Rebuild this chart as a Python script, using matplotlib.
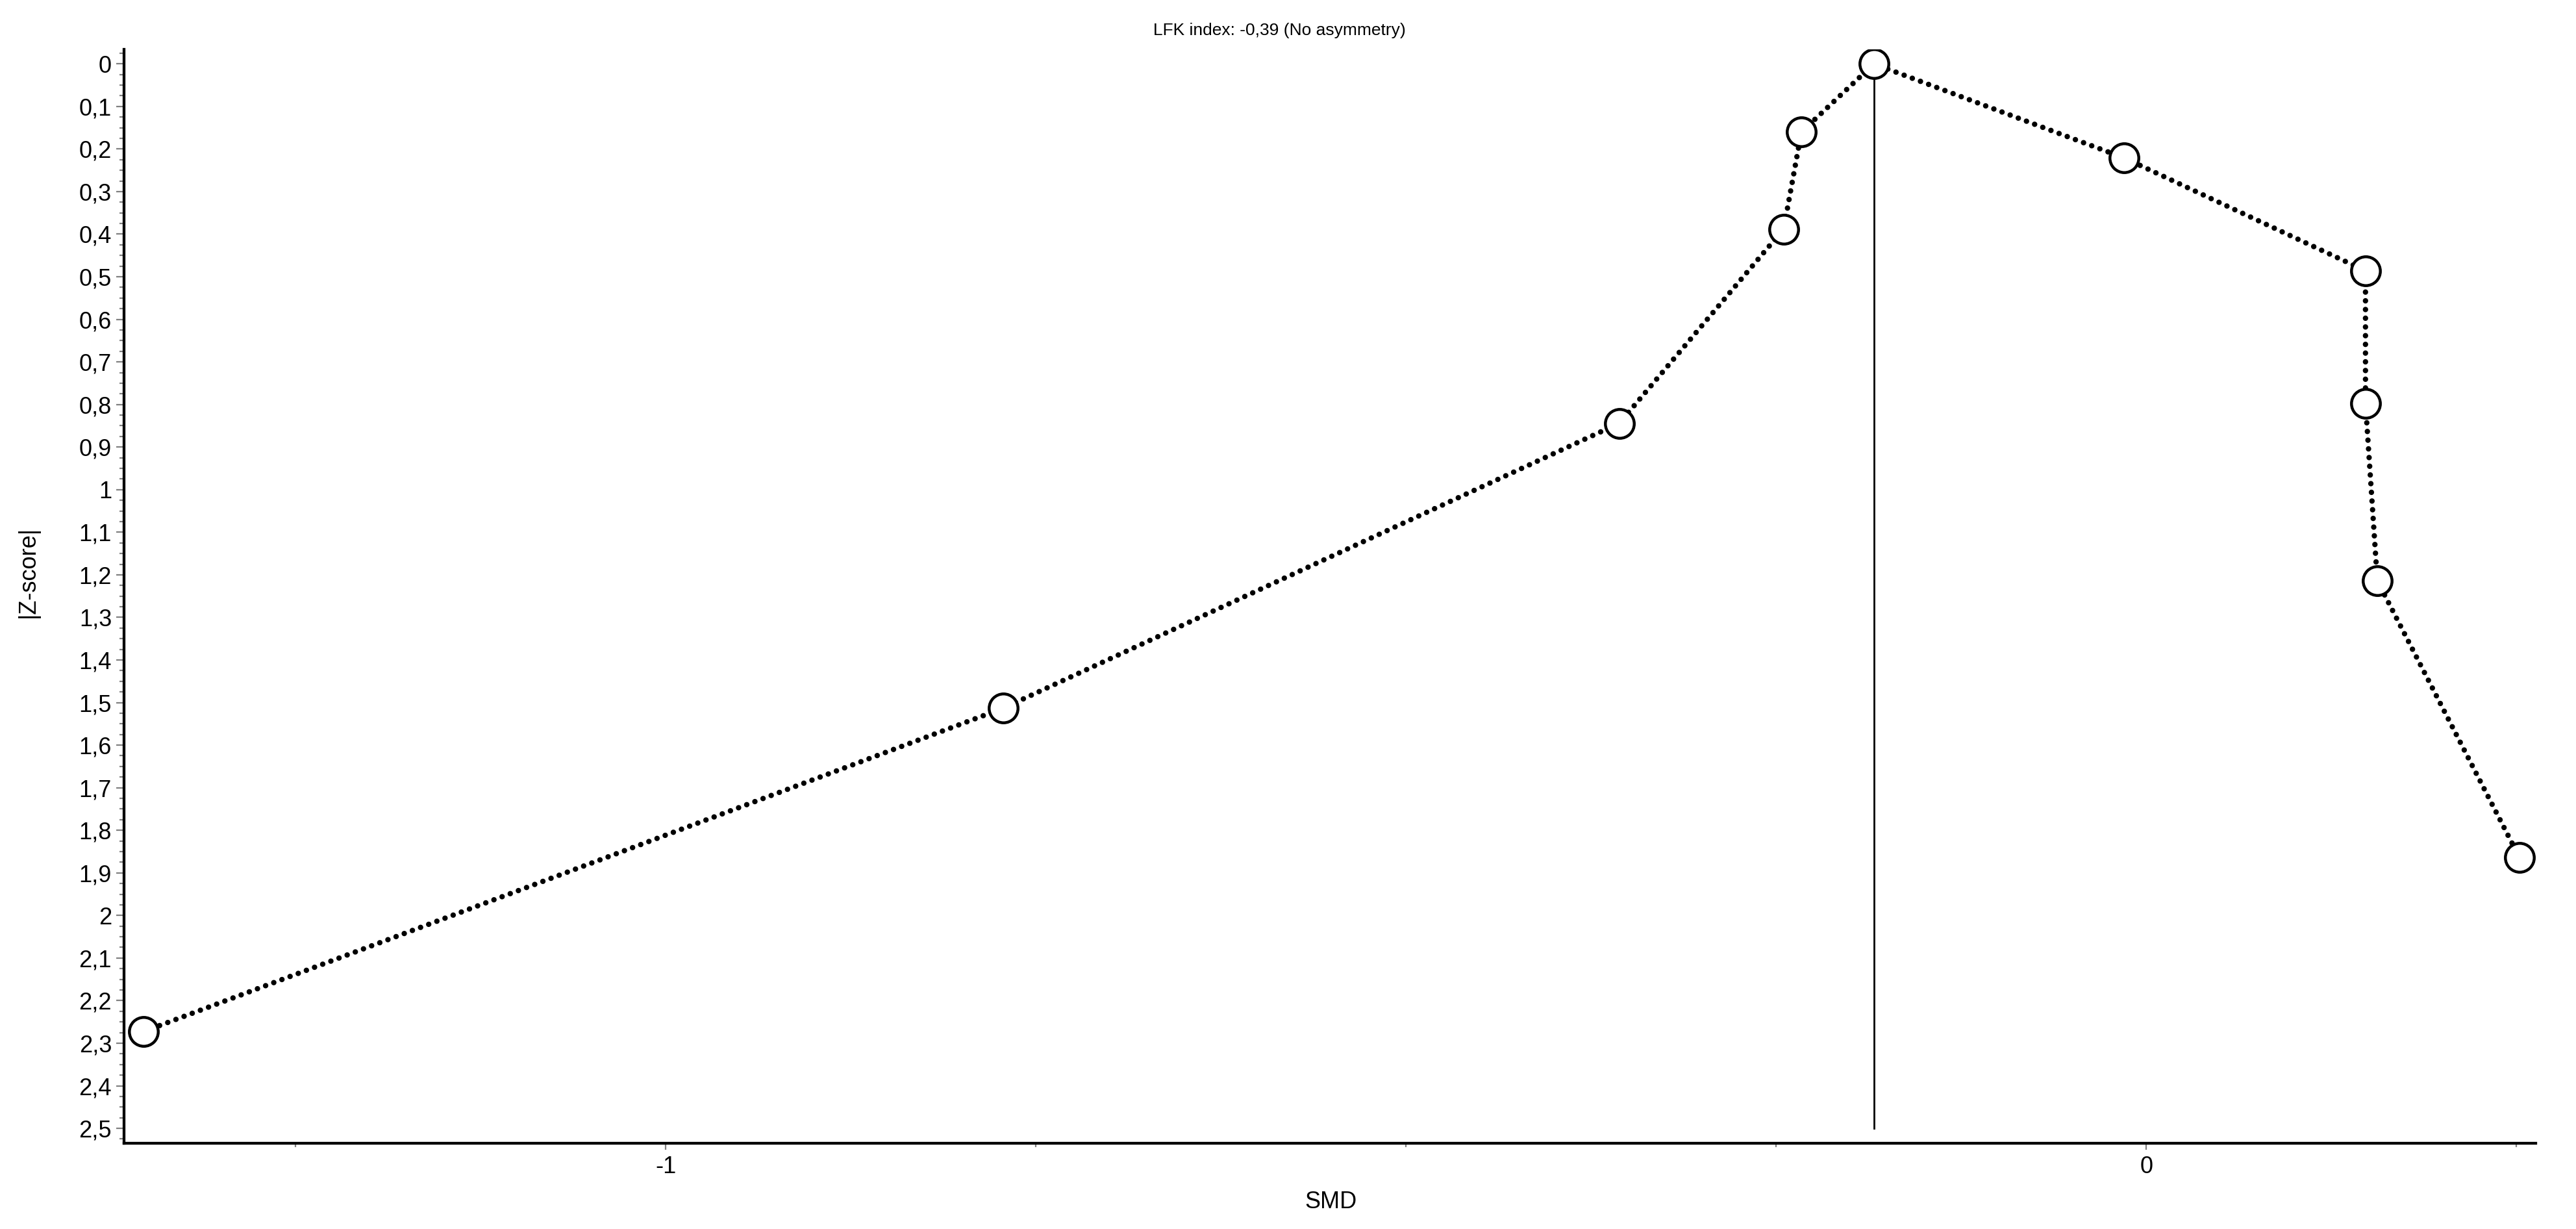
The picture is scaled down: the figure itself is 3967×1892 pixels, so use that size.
import matplotlib
matplotlib.use('Agg')
import matplotlib.pyplot as plt
from matplotlib.ticker import MultipleLocator, FixedLocator, FuncFormatter

plt.rcParams['font.family'] = ['Liberation Sans', 'DejaVu Sans']

# study effects (SMD) and |Z-score|
smd = [-1.353, -0.772, -0.356, -0.245, -0.233, -0.184, -0.015, 0.148, 0.148, 0.156, 0.252]
zscore = [2.273, 1.513, 0.844, 0.388, 0.160, 0.0, 0.221, 0.486, 0.797, 1.214, 1.864]

# vertical reference line at the peak of the plot
peak_smd = -0.184
peak_z = [0.0, 2.5]

title_txt = 'LFK index: -0,39 (No asymmetry)'
x_major = [-1, 0]

#create figure with the right pixel size
fig, ax = plt.subplots(figsize=(39.67, 18.92), dpi=100)
fig.subplots_adjust(left=191/3967, right=3905/3967, bottom=1-1760/1892, top=1-76/1892)

#reference line
ax.plot([peak_smd, peak_smd], peak_z, color='black', lw=2.0, zorder=1)

#dotted connecting line
ax.plot(smd, zscore, color='black', lw=6.0, linestyle=(0, (0.01, 1.6)),
        dash_capstyle='round', zorder=2)

#open circles
ax.plot(smd, zscore, linestyle='none', marker='o', markersize=32,
        markerfacecolor='white', markeredgecolor='black', markeredgewidth=3.2, zorder=3)

#axes limits, y inverted
ax.set_xlim(-1.366, 0.263)
ax.set_ylim(2.535, -0.034)

#ticks
ax.xaxis.set_major_locator(FixedLocator(x_major))
ax.xaxis.set_minor_locator(MultipleLocator(0.25))
ax.yaxis.set_major_locator(MultipleLocator(0.1))
ax.yaxis.set_minor_locator(MultipleLocator(0.025))

comma = FuncFormatter(lambda v, p: ('%g' % round(v, 3)).replace('.', ','))
ax.xaxis.set_major_formatter(comma)
ax.yaxis.set_major_formatter(comma)

ax.tick_params(axis='both', which='both', color='#808080', width=1.6, labelsize=26)
ax.tick_params(axis='y', which='major', length=8.6, pad=5)
ax.tick_params(axis='y', which='minor', length=5)
ax.tick_params(axis='x', which='major', length=7.5, pad=6)
ax.tick_params(axis='x', which='minor', length=4)

#spines
ax.spines['top'].set_visible(False)
ax.spines['right'].set_visible(False)
ax.spines['left'].set_linewidth(3.1)
ax.spines['bottom'].set_linewidth(3.1)

#labels and title
fig.text(2050/3967, 1-1850/1892, 'SMD', fontsize=26, ha='center', va='center')
fig.text(43/3967, 1-880/1892, '|Z-score|', fontsize=26, ha='center', va='center', rotation=90)
fig.text(1970/3967, 1-47/1892, title_txt, fontsize=19, ha='center', va='center')

fig.savefig('out.png', dpi=100)
